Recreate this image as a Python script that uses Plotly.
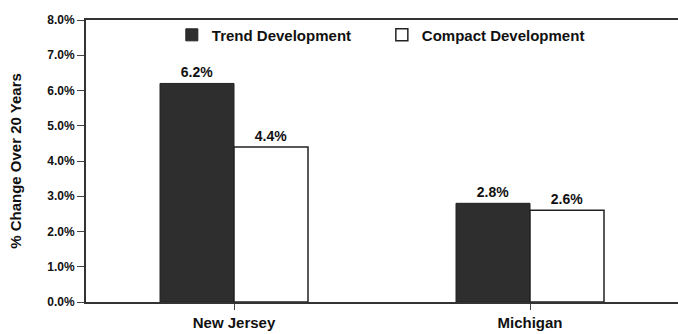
import plotly.graph_objects as go

categories = ["New Jersey", "Michigan"]
trend_values = [6.2, 2.8]
compact_values = [4.4, 2.6]
trend_labels = ["6.2%", "2.8%"]
compact_labels = ["4.4%", "2.6%"]
y_tick_values = [0, 1, 2, 3, 4, 5, 6, 7, 8]
y_tick_labels = ["0.0%", "1.0%", "2.0%", "3.0%", "4.0%", "5.0%", "6.0%", "7.0%", "8.0%"]

FONT = "Liberation Sans, Arial, sans-serif"

fig = go.Figure()
fig.add_trace(go.Bar(
    x=categories, y=trend_values, name="Trend Development",
    marker=dict(color="#2e2e2e", line=dict(color="#222222", width=1)),
    text=trend_labels, textposition="outside", cliponaxis=False,
    textfont=dict(family=FONT, size=14, color="#111111", weight="bold"),
))
fig.add_trace(go.Bar(
    x=categories, y=compact_values, name="Compact Development",
    marker=dict(color="white", line=dict(color="#222222", width=1.5)),
    text=compact_labels, textposition="outside", cliponaxis=False,
    textfont=dict(family=FONT, size=14, color="#111111", weight="bold"),
))

fig.update_layout(
    width=678, height=334,
    margin=dict(l=86, r=0, t=20, b=32, autoexpand=False),
    paper_bgcolor="white", plot_bgcolor="white",
    barmode="group", bargap=0.5, bargroupgap=0,
    font=dict(family=FONT, size=12, color="#111111", weight="bold"),
    legend=dict(
        orientation="h", x=0.145, y=1.005, xanchor="left", yanchor="top",
        font=dict(family=FONT, size=15, color="#111111", weight="bold"),
        bgcolor="rgba(0,0,0,0)", traceorder="normal",
        itemwidth=30, entrywidthmode="pixels", entrywidth=165,
    ),
    showlegend=True,
)
fig.update_xaxes(
    showline=True, linecolor="#333333", linewidth=2, mirror=True,
    ticks="outside", ticklen=6, tickcolor="#444444",
    tickfont=dict(family=FONT, size=15, color="#111111", weight="bold"),
    showgrid=False,
)
fig.update_yaxes(
    range=[0, 8], tickvals=y_tick_values, ticktext=y_tick_labels,
    showline=True, linecolor="#333333", linewidth=2,
    ticks="outside", ticklen=7, tickcolor="#444444",
    tickfont=dict(family=FONT, size=12, color="#111111", weight="bold"),
    showgrid=False, zeroline=False,
    title=dict(text="% Change Over 20 Years", standoff=22,
               font=dict(family=FONT, size=15, color="#111111", weight="bold")),
)

fig.write_html("out.html")
